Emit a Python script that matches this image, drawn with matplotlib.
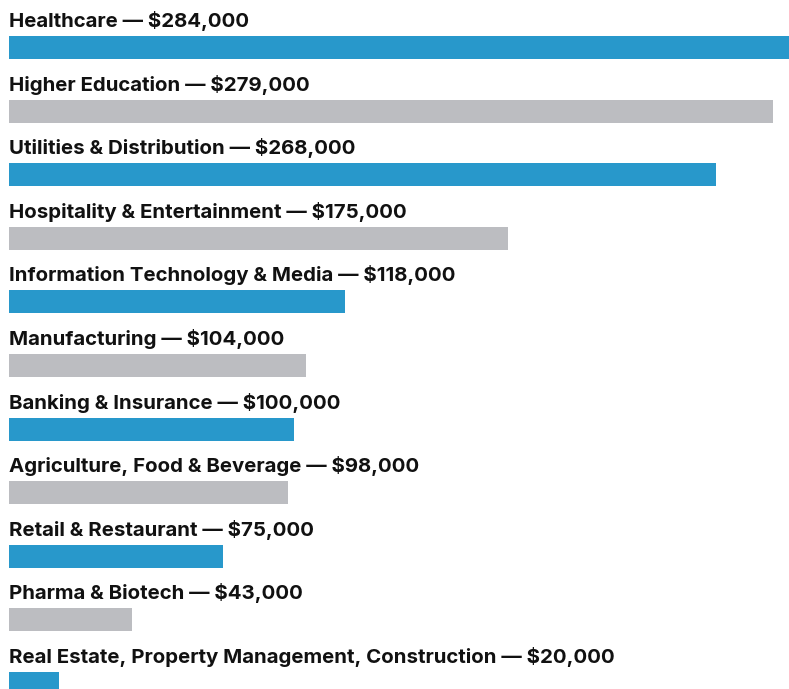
import matplotlib
matplotlib.use('Agg')
import matplotlib.pyplot as plt

plt.rcParams['font.family'] = ['Inter', 'DejaVu Sans']

# 산업별 값 (라벨에 적힌 금액)
industries = [
    'Healthcare', 'Higher Education', 'Utilities & Distribution',
    'Hospitality & Entertainment', 'Information Technology & Media',
    'Manufacturing', 'Banking & Insurance', 'Agriculture, Food & Beverage',
    'Retail & Restaurant', 'Pharma & Biotech',
    'Real Estate, Property Management, Construction',
]
values = [284000, 279000, 268000, 175000, 118000, 104000, 100000, 98000, 75000, 43000, 20000]
# 그림에서 읽은 막대 길이 (위쪽 막대는 라벨과 비례하지 않음)
bar_lengths = [273700, 268100, 248100, 175100, 117900, 104200, 100000, 97900, 75100, 43200, 17500]

BLUE = '#2898cb'
GRAY = '#bcbdc1'
colors = [BLUE if i % 2 == 0 else GRAY for i in range(len(values))]

W, H = 789, 689
fig = plt.figure(figsize=(W / 100, H / 100), dpi=100)
ax = fig.add_axes([9 / W, 0, 1 - 9 / W, 1])

step = 63.6
first_center = 47.5
ax.set_xlim(0, 273700)
ax.set_ylim((H - first_center) / step, -first_center / step)

ypos = list(range(len(values)))
ax.barh(ypos, bar_lengths, height=23 / step, color=colors, align='center')

for i, (name, v) in enumerate(zip(industries, values)):
    ax.text(0, i - 20.5 / step, f'{name} \u2014 ${v:,}', fontsize=14.7,
            fontweight='bold', color='#111111', va='baseline', ha='left')

ax.axis('off')
fig.savefig('out.png', dpi=100)
